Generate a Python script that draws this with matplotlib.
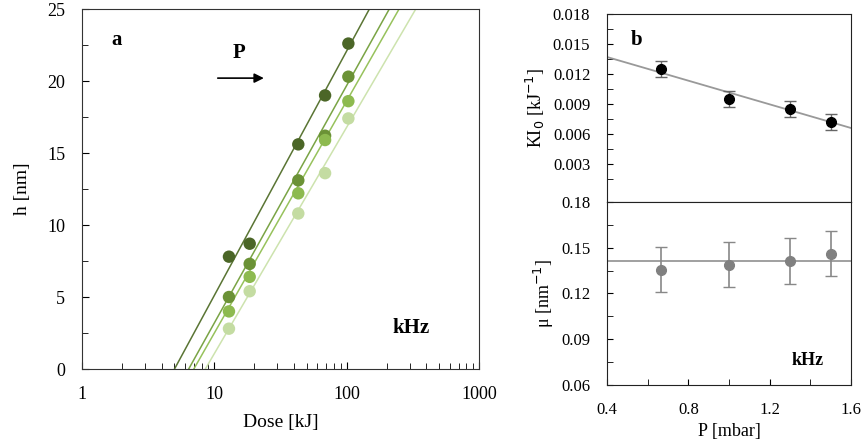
import numpy as np
import matplotlib.pyplot as plt
from matplotlib.ticker import MultipleLocator, FixedLocator

plt.rcParams['font.family'] = ['Liberation Serif', 'DejaVu Serif']
plt.rcParams['font.size'] = 11

# panel a: h vs dose, four pressures
dose = [12.9, 18.5, 43.1, 68.7, 103]
h_series = [
    [7.8, 8.7, 15.6, 19.0, 22.6],
    [5.0, 7.3, 13.1, 16.2, 20.3],
    [4.0, 6.4, 12.2, 15.9, 18.6],
    [2.8, 5.4, 10.8, 13.6, 17.4],
]
# fits: dose at h=0 and dose at h=25
fit_d0 = [5.0, 6.4, 7.0, 8.55]
fit_d25 = [148.5, 210, 249, 333]
colors = ['#4b6627', '#6b9236', '#8dba4f', '#c4dca2']
line_colors = ['#5a7534', '#7aa445', '#97c25c', '#cde3ae']

# panel b: K I0 and mu vs pressure
pressure = [0.667, 1.0, 1.3, 1.5]
ki0 = [0.0125, 0.0095, 0.0085, 0.0072]
ki0_err = [0.0008, 0.0008, 0.0008, 0.0008]
ki0_fit = [0.0137, 0.0066]  # at P = 0.4 and 1.6
mu = [0.1357, 0.139, 0.1414, 0.1462]
mu_err = [0.015, 0.015, 0.015, 0.015]
mu_mean = 0.141

fig = plt.figure(figsize=(8.63, 4.43), dpi=100)
W, H = 863, 443
ax = fig.add_axes([82 / W, 1 - 369 / H, (479 - 82) / W, (369 - 9) / H])
for i in range(4):
    ax.scatter(dose, h_series[i], s=80, color=colors[i], zorder=3, edgecolors='none')
    xs = np.logspace(np.log10(fit_d0[i]), np.log10(fit_d25[i]), 50)
    ys = 25 * np.log10(xs / fit_d0[i]) / np.log10(fit_d25[i] / fit_d0[i])
    ax.plot(xs, ys, color=line_colors[i], lw=1.1, zorder=2)
ax.set_xscale('log')
ax.set_xlim(1, 1000)
ax.set_ylim(0, 25)
ax.yaxis.set_major_locator(MultipleLocator(5))
ax.yaxis.set_minor_locator(MultipleLocator(2.5))
ax.set_xticks([1, 10, 100, 1000])
ax.set_xticklabels(['1', '10', '100', '1000'])
ax.tick_params(which='both', direction='in', top=False, right=False, labelsize=13)
ax.tick_params(axis='x', pad=12)
ax.tick_params(axis='y', pad=12)
ax.tick_params(which='major', length=5)
ax.tick_params(which='minor', length=4)
ax.set_xlabel('Dose [kJ]', fontsize=14, labelpad=8)
ax.set_ylabel('h [nm]', fontsize=14, labelpad=12)
ax.text(0.073, 0.9, 'a', transform=ax.transAxes, fontsize=15, fontweight='bold')
ax.text(0.38, 0.864, 'P', transform=ax.transAxes, fontsize=15, fontweight='bold')
ax.annotate('', xy=(0.465, 0.808), xytext=(0.335, 0.808), xycoords='axes fraction',
            arrowprops=dict(arrowstyle='-|>', color='black', lw=1.2, mutation_scale=14))
ax.text(0.783, 0.1, 'kHz', transform=ax.transAxes, fontsize=15, fontweight='bold')
for s in ax.spines.values():
    s.set_color('#333333')

# panel b top
bx = fig.add_axes([607 / W, 1 - 202 / H, (851 - 607) / W, (202 - 14) / H])
bx.errorbar(pressure, ki0, yerr=ki0_err, fmt='o', color='black', ms=7,
            ecolor='#666666', elinewidth=1, capsize=4, zorder=3)
bx.plot([0.4, 1.6], ki0_fit, color='#999999', lw=1.3, zorder=2)
bx.set_xlim(0.4, 1.6)
bx.set_ylim(-0.0008, 0.018)
bx.set_yticks([0.003, 0.006, 0.009, 0.012, 0.015, 0.018])
bx.set_yticklabels(['0.003', '0.006', '0.009', '0.012', '0.015', '0.018'])
bx.yaxis.set_minor_locator(FixedLocator([0.0015 + 0.003 * k for k in range(6)]))
bx.set_xticks([])
bx.tick_params(which='both', direction='in', labelsize=12, length=4, pad=12)
bx.set_ylabel('KI$_0$ [kJ$^{-1}$]', fontsize=13, labelpad=4)
bx.text(0.098, 0.835, 'b', transform=bx.transAxes, fontsize=15, fontweight='bold')

# panel b bottom
cx = fig.add_axes([607 / W, 1 - 385 / H, (851 - 607) / W, (385 - 202) / H])
cx.errorbar(pressure, mu, yerr=mu_err, fmt='o', color='#808080', ms=7,
            ecolor='#888888', elinewidth=1.2, capsize=4, zorder=3)
cx.axhline(mu_mean, color='#999999', lw=1.3, zorder=2)
cx.set_xlim(0.4, 1.6)
cx.set_ylim(0.06, 0.18)
cx.yaxis.set_minor_locator(MultipleLocator(0.015))
cx.set_yticks([0.06, 0.09, 0.12, 0.15, 0.18])
cx.set_yticklabels(['0.06', '0.09', '0.12', '0.15', '0.18'])
cx.xaxis.set_minor_locator(MultipleLocator(0.2))
cx.set_xticks([0.4, 0.8, 1.2, 1.6])
cx.set_xticklabels(['0.4', '0.8', '1.2', '1.6'])
cx.tick_params(which='both', direction='in', labelsize=12, length=4, pad=12)
cx.set_xlabel('P [mbar]', fontsize=13)
cx.set_ylabel('μ [nm$^{-1}$]', fontsize=13, labelpad=4)
cx.text(0.758, 0.11, 'kHz', transform=cx.transAxes, fontsize=13, fontweight='bold')

for a in (bx, cx):
    for s in a.spines.values():
        s.set_color('#222222')

fig.savefig('out.png', dpi=100)
